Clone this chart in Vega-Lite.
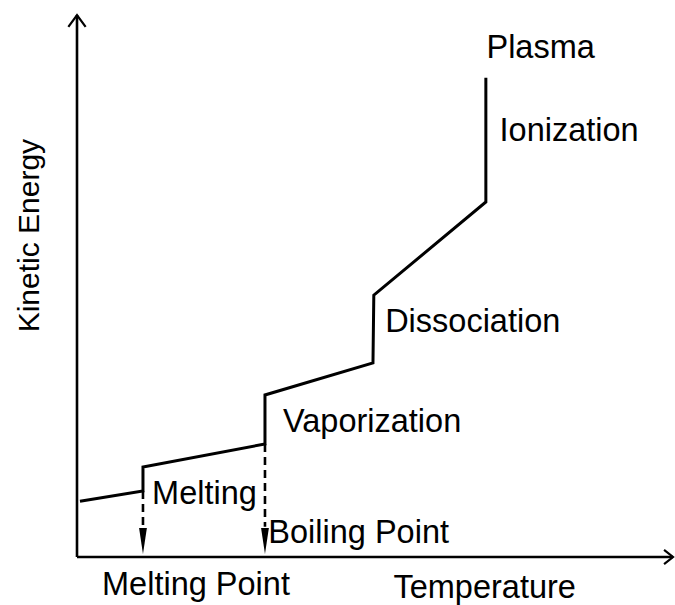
{
  "$schema": "https://vega.github.io/schema/vega-lite/v6.json",
  "width": 596,
  "height": 542,
  "autosize": "none",
  "padding": {"left": 77, "top": 15, "right": 2, "bottom": 48},
  "background": "white",
  "config": {"view": {"stroke": null}},
  "datasets": {
    "curve": [
      {"i": 0, "t": 0.5, "e": 10.3},
      {"i": 1, "t": 11.07, "e": 12.18},
      {"i": 2, "t": 11.07, "e": 16.6},
      {"i": 3, "t": 31.54, "e": 20.85},
      {"i": 4, "t": 31.54, "e": 29.9},
      {"i": 5, "t": 49.66, "e": 35.8},
      {"i": 6, "t": 49.8, "e": 48.3},
      {"i": 7, "t": 68.6, "e": 65.5},
      {"i": 8, "t": 68.6, "e": 88.4}
    ],
    "axes": [
      {"t1": 0, "e1": 0, "t2": 0, "e2": 100},
      {"t1": 0, "e1": 0, "t2": 100, "e2": 0}
    ],
    "heads": [
      {"g": "y", "i": 0, "t": -1.45, "e": 97.8},
      {"g": "y", "i": 1, "t": 0, "e": 100},
      {"g": "y", "i": 2, "t": 1.45, "e": 97.8},
      {"g": "x", "i": 0, "t": 98.5, "e": 1.3},
      {"g": "x", "i": 1, "t": 100, "e": 0},
      {"g": "x", "i": 2, "t": 98.5, "e": -1.3}
    ],
    "drops": [
      {"t": 11.07, "e1": 12.18, "e2": 5.6, "ea": 2.95},
      {"t": 31.54, "e1": 20.85, "e2": 5.6, "ea": 2.95}
    ],
    "labels": [
      {"text": "Plasma", "t": 68.7, "e": 92.07},
      {"text": "Ionization", "t": 70.9, "e": 76.75},
      {"text": "Dissociation", "t": 51.7, "e": 41.5},
      {"text": "Vaporization", "t": 34.56, "e": 23.06},
      {"text": "Melting", "t": 12.6, "e": 9.78},
      {"text": "Boiling Point", "t": 32.1, "e": 2.58},
      {"text": "Melting Point", "t": 4.2, "e": -7.0},
      {"text": "Temperature", "t": 53.1, "e": -7.56}
    ],
    "ylabel": [
      {"text": "Kinetic Energy", "t": -6.33, "e": 59.3}
    ]
  },
  "layer": [
    {
      "data": {"name": "axes"},
      "mark": {"type": "rule", "color": "#000", "strokeWidth": 2.6},
      "encoding": {
        "x": {"field": "t1", "type": "quantitative", "scale": {"domain": [0, 100], "nice": false, "zero": false}, "axis": null},
        "y": {"field": "e1", "type": "quantitative", "scale": {"domain": [0, 100], "nice": false, "zero": false}, "axis": null},
        "x2": {"field": "t2"},
        "y2": {"field": "e2"}
      }
    },
    {
      "data": {"name": "heads"},
      "mark": {"type": "line", "color": "#000", "strokeWidth": 2.2, "clip": false},
      "encoding": {
        "x": {"field": "t", "type": "quantitative"},
        "y": {"field": "e", "type": "quantitative"},
        "detail": {"field": "g"},
        "order": {"field": "i"}
      }
    },
    {
      "data": {"name": "curve"},
      "mark": {"type": "line", "color": "#000", "strokeWidth": 3, "strokeJoin": "miter"},
      "encoding": {
        "x": {"field": "t", "type": "quantitative"},
        "y": {"field": "e", "type": "quantitative"},
        "order": {"field": "i"}
      }
    },
    {
      "data": {"name": "drops"},
      "mark": {"type": "rule", "color": "#000", "strokeWidth": 2.6, "strokeDash": [8, 5]},
      "encoding": {
        "x": {"field": "t", "type": "quantitative"},
        "y": {"field": "e1", "type": "quantitative"},
        "y2": {"field": "e2"}
      }
    },
    {
      "data": {"name": "drops"},
      "mark": {"type": "point", "filled": true, "color": "#000", "opacity": 1, "shape": "M-0.3,-1L0.3,-1L0,1Z", "size": 676},
      "encoding": {
        "x": {"field": "t", "type": "quantitative"},
        "y": {"field": "ea", "type": "quantitative"}
      }
    },
    {
      "data": {"name": "labels"},
      "mark": {"type": "text", "font": "Liberation Sans", "fontSize": 32.5, "color": "#000", "align": "left", "baseline": "alphabetic", "clip": false},
      "encoding": {
        "x": {"field": "t", "type": "quantitative"},
        "y": {"field": "e", "type": "quantitative"},
        "text": {"field": "text"}
      }
    },
    {
      "data": {"name": "ylabel"},
      "mark": {"type": "text", "font": "Liberation Sans", "fontSize": 30, "color": "#000", "align": "center", "baseline": "alphabetic", "angle": 270, "clip": false},
      "encoding": {
        "x": {"field": "t", "type": "quantitative"},
        "y": {"field": "e", "type": "quantitative"},
        "text": {"field": "text"}
      }
    }
  ]
}
